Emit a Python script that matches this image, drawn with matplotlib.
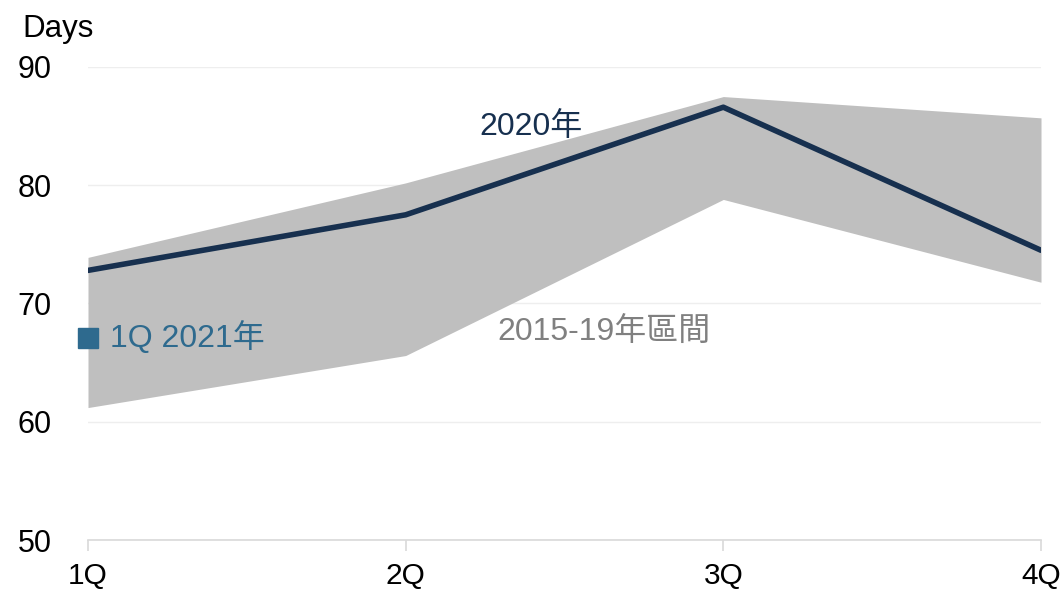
import matplotlib
matplotlib.use("Agg")
import matplotlib.pyplot as plt

# Data
quarters = ["1Q", "2Q", "3Q", "4Q"]
band_high = [73.9, 80.2, 87.5, 85.7]   # 2015-19 range, upper edge
band_low = [61.2, 65.6, 78.8, 71.8]    # 2015-19 range, lower edge
days_2020 = [72.8, 77.5, 86.6, 74.5]
days_1q2021 = [67.1]
yticks = [50, 60, 70, 80, 90]

fonts = ["Liberation Sans", "Noto Sans CJK TC", "DejaVu Sans"]
plt.rcParams["font.family"] = fonts

fig = plt.figure(figsize=(10.64, 5.93), dpi=100)
ax = fig.add_axes([88 / 1064, 53 / 593, 953 / 1064, 473 / 593])

x = list(range(len(quarters)))

# Band and lines
ax.fill_between(x, band_low, band_high, color="#bfbfbf", linewidth=0, zorder=1)
ax.plot(x, days_2020, color="#17304f", linewidth=4, zorder=3,
        solid_capstyle="round")
ax.plot([0], days_1q2021, marker="s", markersize=14, color="#2e6a8e",
        linestyle="none", zorder=4, clip_on=False)

# Labels on the chart
ax.text(1.394, 84.9, "2020年", fontsize=23, color="#17304f", ha="center", va="center")
ax.text(1.623, 67.5, "2015-19年區間", fontsize=23, color="#808080", ha="center", va="center")
ax.text(0.069, 67.1, "1Q 2021年", fontsize=23, color="#2e6a8e", ha="left", va="center")

# Axes styling
ax.set_xlim(0, 3)
ax.set_ylim(50, 90)
ax.set_yticks(yticks)
ax.set_xticks(x)
ax.set_xticklabels(quarters)
ax.grid(axis="y", color="#eeeeee", linewidth=1)
ax.set_axisbelow(True)
for side in ["top", "right", "left"]:
    ax.spines[side].set_visible(False)
ax.spines["bottom"].set_color("#d9d9d9")
ax.spines["bottom"].set_linewidth(1.2)
ax.tick_params(axis="x", length=8, width=1.2, color="#d9d9d9", labelsize=21.5, pad=8)
ax.tick_params(axis="y", length=0, labelsize=22, pad=26)

fig.text(22 / 1064, 1 - 29 / 593, "Days", fontsize=22.5, ha="left", va="center")

plt.savefig("out.png", dpi=100)
